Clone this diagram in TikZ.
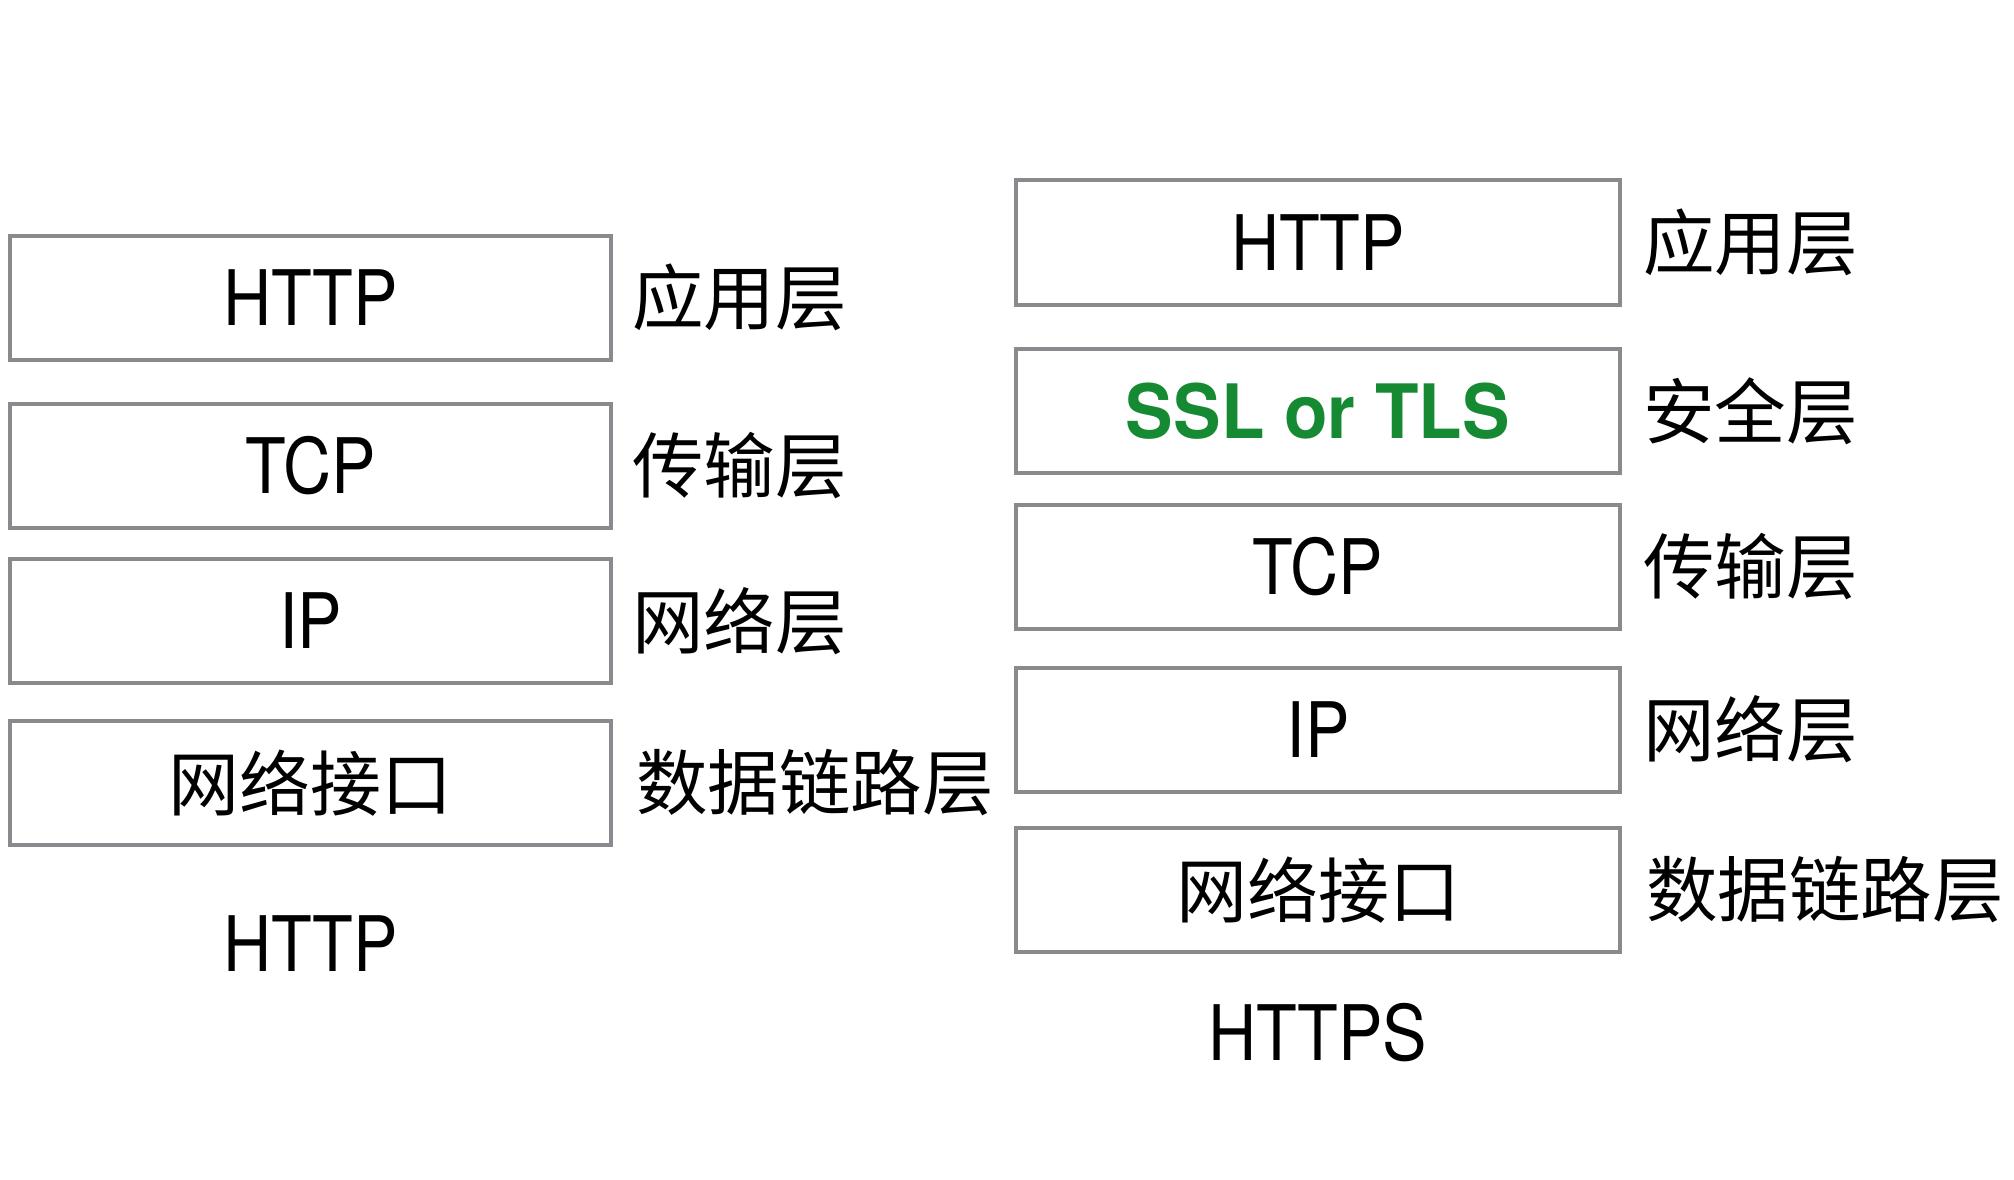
\documentclass[tikz,border=0pt]{standalone}
\usepackage{fontspec}
\newfontfamily\cjk{Noto Sans CJK SC}
\newfontfamily\lat[FakeStretch=0.87]{TeX Gyre Heros}
\newfontfamily\latb[FakeStretch=0.95]{TeX Gyre Heros Bold}
\definecolor{boxgray}{HTML}{898A8D}
\definecolor{tlsgreen}{HTML}{168A33}
\tikzset{
  layerbox/.style={draw=boxgray, line width=4pt, minimum height=124pt, inner sep=0pt, outer sep=0pt},
  leftbox/.style={layerbox, minimum width=601pt},
  rightbox/.style={layerbox, minimum width=604pt},
  lattext/.style={font=\fontsize{76.6pt}{80pt}\lat},
  cjktext/.style={font=\fontsize{71.5pt}{80pt}\cjk, inner sep=0pt, anchor=west},
}
\begin{document}
\begin{tikzpicture}[x=1pt, y=-1pt]
\useasboundingbox[fill=white] (0,0) rectangle (2014,1180);
% left stack
\node[leftbox, lattext] (lhttp) at (310.5,297.5) {HTTP};
\node[leftbox, lattext] (ltcp)  at (310.5,465.5) {TCP};
\node[leftbox, lattext] (lip)   at (310.5,621) {IP};
\node[leftbox, font=\fontsize{71pt}{80pt}\cjk] (lnet) at (310.5,783) {网络接口};
\node[cjktext] (llab1) at (632,297.5) {应用层};
\node[cjktext] (llab2) at (632,465.5) {传输层};
\node[cjktext] (llab3) at (632,621) {网络层};
\node[cjktext] (llab4) at (636,783) {数据链路层};
\node[lattext, inner sep=0pt] (ltitle) at (310.5,944) {HTTP};
% right stack
\node[rightbox, lattext] (rhttp) at (1318,242.5) {HTTP};
\node[rightbox, font=\fontsize{75pt}{80pt}\latb, text=tlsgreen] (rtls) at (1318,411) {SSL or TLS};
\node[rightbox, lattext] (rtcp)  at (1318,567) {TCP};
\node[rightbox, lattext] (rip)   at (1318,729.5) {IP};
\node[rightbox, font=\fontsize{71pt}{80pt}\cjk] (rnet) at (1318,890) {网络接口};
\node[cjktext] (rlab1) at (1643,242.5) {应用层};
\node[cjktext] (rlab2) at (1643,411) {安全层};
\node[cjktext] (rlab3) at (1643,567) {传输层};
\node[cjktext] (rlab4) at (1643,729.5) {网络层};
\node[cjktext] (rlab5) at (1646,890) {数据链路层};
\node[lattext, inner sep=0pt] (rtitle) at (1318,1033) {HTTPS};
\end{tikzpicture}
\end{document}
